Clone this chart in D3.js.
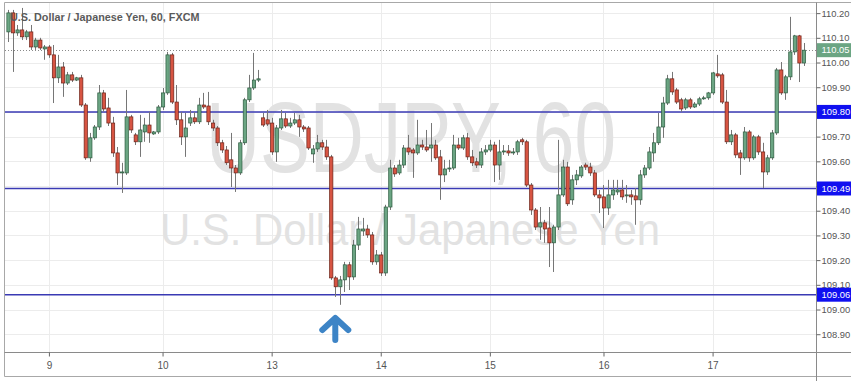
<!DOCTYPE html>
<html><head><meta charset="utf-8">
<script src="https://cdn.jsdelivr.net/npm/d3@7"></script>
<style>html,body{margin:0;padding:0;background:#fff;}svg{display:block;}</style>
</head><body><svg id="c" width="851" height="381"></svg>
<script>
// ---- data (USD/JPY, 60 min, FXCM) ----
const opens = [110.124,110.201,110.120,110.132,110.104,110.124,110.063,110.091,110.055,110.063,
110.031,109.938,109.982,109.917,109.950,109.929,109.938,109.828,109.614,109.695,
109.739,109.877,109.816,109.755,109.634,109.553,109.553,109.780,109.707,109.679,
109.719,109.747,109.711,109.719,109.820,109.877,110.031,109.840,109.768,109.699,
109.755,109.776,109.760,109.828,109.824,109.755,109.735,109.675,109.646,109.606,
109.573,109.553,109.675,109.849,109.897,109.929,109.776,109.768,109.755,109.638,
109.735,109.772,109.743,109.755,109.768,109.739,109.735,109.630,109.650,109.675,
109.658,109.618,109.128,109.092,109.120,109.181,109.132,109.261,109.318,109.326,
109.302,109.193,109.221,109.148,109.415,109.573,109.553,109.585,109.654,109.646,
109.634,109.666,109.658,109.654,109.666,109.618,109.545,109.569,109.573,109.666,
109.654,109.695,109.618,109.598,109.585,109.638,109.646,109.666,109.585,109.638,
109.642,109.634,109.638,109.687,109.679,109.504,109.403,109.334,109.351,109.330,
109.270,109.334,109.464,109.577,109.444,109.525,109.541,109.585,109.577,109.553,
109.464,109.456,109.411,109.464,109.476,109.484,109.460,109.464,109.460,109.444,
109.545,109.573,109.634,109.675,109.739,109.836,109.934,109.889,109.849,109.816,
109.849,109.820,109.832,109.853,109.857,109.877,109.954,109.950,109.840,109.679,
109.707,109.634,109.614,109.719,109.614,109.699,109.638,109.557,109.614,109.715,
109.970,109.877,109.942,110.043,110.108,109.998];
const closes = [110.201,110.120,110.132,110.104,110.124,110.063,110.091,110.059,110.063,110.031,
109.938,109.982,109.917,109.950,109.929,109.938,109.828,109.614,109.695,109.739,
109.877,109.812,109.755,109.634,109.553,109.557,109.780,109.727,109.679,109.727,
109.747,109.715,109.719,109.820,109.877,110.031,109.840,109.768,109.699,109.735,
109.776,109.760,109.828,109.820,109.760,109.735,109.675,109.646,109.594,109.573,
109.553,109.675,109.849,109.897,109.929,109.934,109.747,109.751,109.638,109.735,
109.772,109.743,109.755,109.768,109.739,109.731,109.654,109.650,109.675,109.658,
109.618,109.128,109.092,109.120,109.181,109.132,109.261,109.326,109.326,109.302,
109.193,109.221,109.148,109.415,109.573,109.549,109.585,109.654,109.638,109.634,
109.666,109.658,109.646,109.666,109.614,109.545,109.569,109.573,109.666,109.654,
109.695,109.618,109.594,109.585,109.638,109.646,109.666,109.585,109.638,109.642,
109.634,109.638,109.679,109.679,109.504,109.403,109.334,109.351,109.326,109.270,
109.334,109.464,109.577,109.428,109.525,109.545,109.577,109.577,109.553,109.464,
109.452,109.411,109.464,109.484,109.484,109.456,109.464,109.456,109.444,109.545,
109.573,109.638,109.675,109.739,109.836,109.934,109.881,109.840,109.812,109.849,
109.820,109.832,109.853,109.857,109.877,109.958,109.946,109.840,109.679,109.707,
109.626,109.614,109.719,109.614,109.699,109.638,109.557,109.614,109.715,109.970,
109.877,109.942,110.043,110.108,109.998,110.050];
const highs = [110.213,110.213,110.152,110.221,110.132,110.152,110.100,110.100,110.071,110.071,
110.071,110.031,110.002,109.962,109.962,109.942,109.950,109.836,109.715,109.747,
109.909,109.889,109.857,109.780,109.658,109.594,109.889,109.788,109.715,109.788,
109.776,109.800,109.723,109.828,109.897,110.043,110.039,109.909,109.800,109.796,
109.808,109.800,109.857,109.877,109.881,109.768,109.743,109.687,109.662,109.715,
109.585,109.687,109.857,109.950,110.039,109.970,109.796,109.808,109.776,109.747,
109.808,109.796,109.776,109.796,109.788,109.747,109.743,109.666,109.707,109.687,
109.687,109.626,109.136,109.136,109.193,109.193,109.282,109.375,109.371,109.343,
109.314,109.241,109.233,109.424,109.606,109.585,109.606,109.666,109.707,109.654,
109.768,109.687,109.727,109.755,109.687,109.646,109.606,109.606,109.707,109.695,
109.707,109.715,109.646,109.614,109.654,109.666,109.687,109.679,109.687,109.666,
109.666,109.654,109.687,109.695,109.687,109.512,109.411,109.415,109.363,109.415,
109.343,109.687,109.606,109.598,109.545,109.565,109.585,109.594,109.594,109.565,
109.484,109.504,109.525,109.525,109.525,109.525,109.504,109.484,109.492,109.565,
109.585,109.658,109.715,109.796,109.861,109.950,109.962,109.897,109.857,109.857,
109.857,109.840,109.861,109.865,109.881,109.962,110.031,109.958,109.889,109.727,
109.715,109.646,109.739,109.727,109.707,109.707,109.675,109.626,109.727,109.978,
110.002,109.950,110.185,110.112,110.112,110.079];
const lows = [110.083,109.962,110.108,110.091,110.091,110.051,110.051,110.051,110.011,110.019,
109.836,109.917,109.861,109.909,109.921,109.925,109.820,109.606,109.598,109.687,
109.727,109.800,109.743,109.618,109.504,109.472,109.545,109.715,109.666,109.618,
109.679,109.675,109.707,109.711,109.808,109.869,109.832,109.747,109.666,109.618,
109.743,109.751,109.751,109.812,109.747,109.723,109.662,109.634,109.585,109.496,
109.476,109.545,109.666,109.840,109.889,109.921,109.739,109.743,109.626,109.598,
109.727,109.735,109.735,109.747,109.699,109.719,109.646,109.594,109.638,109.646,
109.606,109.120,109.051,109.019,109.071,109.079,109.120,109.241,109.298,109.290,
109.181,109.181,109.136,109.136,109.403,109.537,109.545,109.573,109.626,109.533,
109.626,109.646,109.638,109.598,109.606,109.444,109.516,109.557,109.565,109.646,
109.646,109.606,109.581,109.573,109.573,109.626,109.638,109.516,109.525,109.626,
109.622,109.626,109.626,109.666,109.496,109.383,109.322,109.282,109.270,109.172,
109.152,109.322,109.456,109.419,109.424,109.504,109.533,109.565,109.541,109.456,
109.391,109.330,109.383,109.444,109.464,109.444,109.432,109.424,109.343,109.424,
109.533,109.565,109.598,109.666,109.695,109.828,109.869,109.832,109.800,109.808,
109.812,109.816,109.824,109.849,109.849,109.869,109.938,109.832,109.670,109.666,
109.614,109.545,109.606,109.598,109.606,109.626,109.492,109.545,109.606,109.707,
109.869,109.849,109.929,110.031,109.921,109.986];
const dayLabels = ['9','10','13','14','15','16','17'];
const dayIndex = [9,34,58,82,106,131,155];
const priceTicks = [108.9,109.0,109.1,109.2,109.3,109.4,109.5,109.6,109.7,109.8,109.9,110.0,110.1,110.2];
const levels = [109.80,109.49,109.06];
const lastPrice = 110.05;
const arrowAt = 72;
const title = 'U.S. Dollar / Japanese Yen, 60, FXCM';
const wmLine1 = 'USDJPY, 60';
const wmLine2 = 'U.S. Dollar / Japanese Yen';

// ---- layout ----
const W = 851, H = 381;
const P = {l:5, r:816, t:3, b:352};
const FONT = '"Liberation Sans", Arial, sans-serif';
const svg = d3.select('#c');
const N = opens.length;
const x = d3.scaleLinear().domain([0, N-1]).range([8, 803.5]);
const y = d3.scaleLinear().domain([108.828, 110.241]).range([P.b, P.t]);
const px = v => Math.round(v) + 0.5;
const fmt = d3.format('.2f');

svg.append('rect').attr('width', W).attr('height', H).attr('fill', '#fff');

svg.append('clipPath').attr('id','pc').append('rect')
  .attr('x', P.l).attr('y', P.t).attr('width', P.r - P.l).attr('height', P.b - P.t);

// grid
const grid = svg.append('g').attr('stroke', '#ececec').attr('stroke-width', 1);
grid.selectAll('line.h').data(priceTicks).join('line').attr('class','h')
  .attr('x1', P.l).attr('x2', P.r).attr('y1', d => px(y(d))).attr('y2', d => px(y(d)));
grid.selectAll('line.v').data(dayIndex).join('line').attr('class','v')
  .attr('y1', P.t).attr('y2', P.b).attr('x1', d => px(x(d))).attr('x2', d => px(x(d)));

// watermark
const wm = svg.append('g').attr('fill', '#e2e2e2').attr('font-family', FONT);
wm.append('text').attr('x', 206).attr('y', 172).attr('font-size', 100)
  .attr('textLength', 410).attr('lengthAdjust', 'spacingAndGlyphs').text(wmLine1);
wm.append('text').attr('x', 160).attr('y', 245).attr('font-size', 45)
  .attr('textLength', 500).attr('lengthAdjust', 'spacingAndGlyphs').text(wmLine2);

// last price dotted line
svg.append('line').attr('x1', P.l).attr('x2', P.r)
  .attr('y1', px(y(lastPrice))).attr('y2', px(y(lastPrice)))
  .attr('stroke', '#8a8a8a').attr('stroke-dasharray', '1,2');

// level lines
svg.append('g').selectAll('line').data(levels).join('line')
  .attr('x1', P.l).attr('x2', P.r).attr('y1', d => y(d)).attr('y2', d => y(d))
  .attr('stroke', '#3a3ab4').attr('stroke-width', 1.5);

// candles
const data = d3.range(N).map(i => ({i, o:opens[i], c:closes[i], h:highs[i], l:lows[i]}));
const cg = svg.append('g').attr('clip-path', 'url(#pc)');
cg.selectAll('line.w').data(data).join('line').attr('class','w')
  .attr('x1', d => px(x(d.i))).attr('x2', d => px(x(d.i)))
  .attr('y1', d => y(d.h)).attr('y2', d => y(d.l))
  .attr('stroke', '#767676').attr('stroke-width', 1);
const bw = 3.3;
cg.selectAll('rect.b').data(data).join('rect').attr('class','b')
  .attr('x', d => x(d.i) - bw/2 + 0.5)
  .attr('width', bw)
  .attr('y', d => y(Math.max(d.o, d.c)))
  .attr('height', d => Math.max(1, Math.abs(y(d.o) - y(d.c))))
  .attr('fill', d => d.c >= d.o ? '#6ba583' : '#d75442')
  .attr('stroke', d => d.c >= d.o ? '#2b5a3e' : '#6b2218')
  .attr('stroke-width', 0.7);

// arrow
const ax = x(arrowAt);
svg.append('path')
  .attr('d', `M${ax-13},${330} L${ax},${318} L${ax+13},${330} M${ax},${319} L${ax},${340}`)
  .attr('fill', 'none').attr('stroke', '#3d84c6').attr('stroke-width', 6)
  .attr('stroke-linecap', 'round').attr('stroke-linejoin', 'round');

// title
svg.append('text').attr('x', 10).attr('y', 21).attr('font-family', FONT)
  .attr('font-size', 10.8).attr('font-weight', 'bold').attr('fill', '#5a5a5a').text(title);

// frame
const fr = svg.append('g').attr('stroke', '#a8a8a8').attr('stroke-width', 1);
fr.append('line').attr('x1', 4.5).attr('x2', W).attr('y1', 2.5).attr('y2', 2.5);
fr.append('line').attr('x1', 4.5).attr('x2', 4.5).attr('y1', 2.5).attr('y2', 376.5);
fr.append('line').attr('x1', 4.5).attr('x2', W).attr('y1', 376.5).attr('y2', 376.5);
fr.append('line').attr('x1', 4.5).attr('x2', W).attr('y1', P.b + 0.5).attr('y2', P.b + 0.5).attr('stroke', '#8a8a8a');
fr.append('line').attr('x1', P.r + 0.5).attr('x2', P.r + 0.5).attr('y1', 2.5).attr('y2', H).attr('stroke', '#8a8a8a');

// right axis (labels hidden behind a level box are dropped, as in the reference)
const hidden = v => levels.some(l => Math.abs(y(l) - y(v)) < 6);
const ya = svg.append('g').attr('transform', `translate(${P.r + 0.5},0)`)
  .call(d3.axisRight(y).tickValues(priceTicks).tickSize(4).tickPadding(1).tickFormat(fmt));
ya.select('.domain').remove();
ya.selectAll('line').attr('stroke', '#666');
ya.selectAll('text').attr('font-family', FONT).attr('font-size', 9.4).attr('fill', '#555');
ya.selectAll('.tick').filter(d => hidden(d)).select('text').remove();

// level boxes
const boxes = svg.append('g');
const allBoxes = levels.map(v => ({v, fill:'#1010f0'})).concat([{v:lastPrice, fill:'#6ba583'}]);
boxes.selectAll('rect').data(allBoxes).join('rect')
  .attr('x', P.r + 1).attr('width', W - P.r).attr('y', d => y(d.v) - 7).attr('height', 14)
  .attr('fill', d => d.fill);
boxes.selectAll('text').data(allBoxes).join('text')
  .attr('x', P.r + 5.5).attr('y', d => y(d.v)).attr('dy', '0.35em')
  .attr('font-family', FONT).attr('font-size', 9.4).attr('fill', '#fff')
  .text(d => fmt(d.v));

// bottom axis
const xa = svg.append('g').attr('transform', `translate(0,${P.b + 0.5})`)
  .call(d3.axisBottom(x).tickValues(dayIndex).tickSize(4).tickPadding(5).tickFormat((d, i) => dayLabels[i]));
xa.select('.domain').remove();
xa.selectAll('line').attr('stroke', '#666');
xa.selectAll('text').attr('font-family', FONT).attr('font-size', 10).attr('fill', '#555');
</script></body></html>
